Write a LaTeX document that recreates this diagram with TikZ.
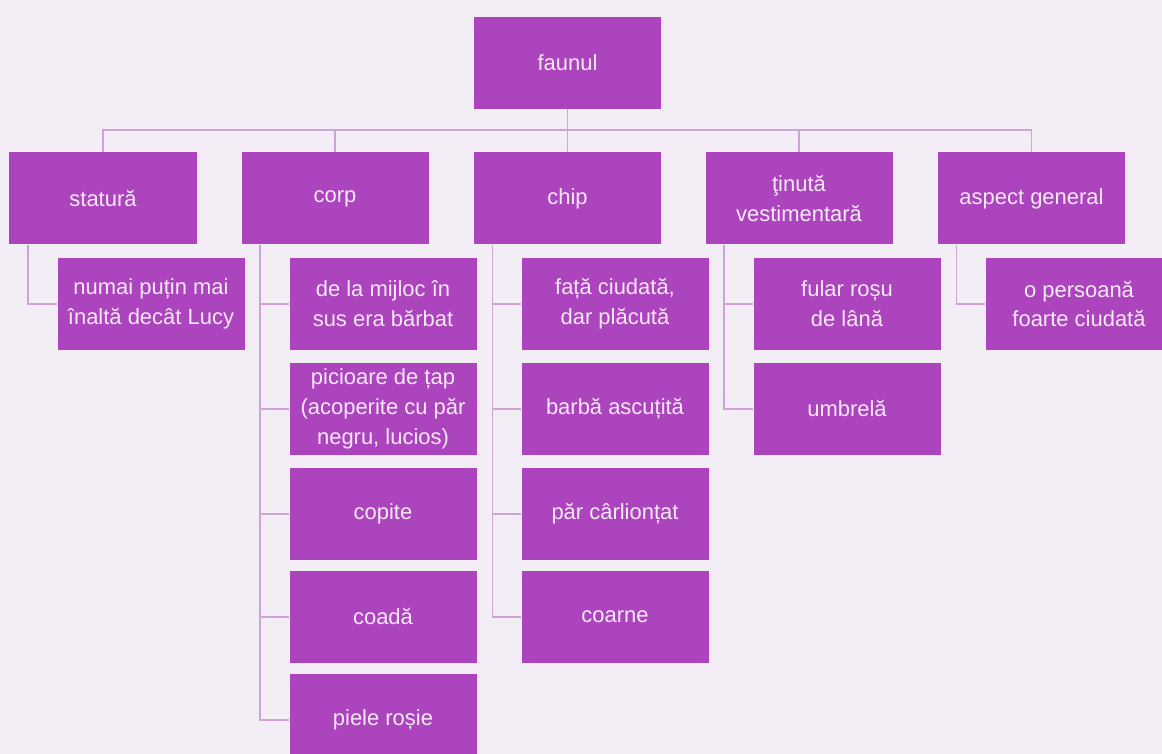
\documentclass[tikz,border=0pt]{standalone}
\usepackage{fontspec}
\setmainfont{Liberation Sans}
\usepackage{tikz}
\definecolor{bgpale}{RGB}{243,238,245}
\definecolor{fpurp}{RGB}{172,68,190}
\definecolor{lpurp}{RGB}{206,164,216}
\definecolor{tpale}{RGB}{246,232,246}
\tikzset{
  box/.style={fill=fpurp,text=tpale,align=center,inner sep=0pt,minimum width=3.74cm,minimum height=1.84cm,font=\fontsize{12.5}{17}\selectfont},
  ln/.style={draw=lpurp,line width=0.9pt},
}

\begin{document}
\begin{tikzpicture}
\fill[bgpale] (0,0) rectangle (23.24,-15.08);
\useasboundingbox (0,0) rectangle (23.24,-15.08);
\begin{scope}
\clip (0,0) rectangle (23.24,-15.08);
\node[box] (faunul) at (11.35,-1.26) {faunul};
\coordinate (bus) at (11.35,-2.60);
\node[box] (statura) at (2.06,-3.97) {statură};
\node[box] (corp) at (6.70,-3.97) {corp};
\node[box] (chip) at (11.35,-3.97) {chip};
\node[box] (tinuta) at (15.98,-3.97) {ţinută\\vestimentară};
\node[box] (aspect) at (20.63,-3.97) {aspect general};
\node[box] (st1) at (3.02,-6.08) {numai puțin mai\\înaltă decât Lucy};
\node[box] (co1) at (7.66,-6.08) {de la mijloc în\\sus era bărbat};
\node[box] (co2) at (7.66,-8.18) {picioare de țap\\(acoperite cu păr\\negru, lucios)};
\node[box] (co3) at (7.66,-10.28) {copite};
\node[box] (co4) at (7.66,-12.34) {coadă};
\node[box] (co5) at (7.66,-14.40) {piele roșie};
\node[box] (ch1) at (12.30,-6.08) {față ciudată,\\dar plăcută};
\node[box] (ch2) at (12.30,-8.18) {barbă ascuțită};
\node[box] (ch3) at (12.30,-10.28) {păr cârlionțat};
\node[box] (ch4) at (12.30,-12.34) {coarne};
\node[box] (ti1) at (16.94,-6.08) {fular roșu\\de lână};
\node[box] (ti2) at (16.94,-8.18) {umbrelă};
\node[box] (as1) at (21.58,-6.08) {o persoană\\foarte ciudată};
\end{scope}
\draw[ln] (faunul) -- (bus);
\draw[ln] (bus) -| (statura.north);
\draw[ln] (bus) -| (corp.north);
\draw[ln] (bus) -- (chip.north);
\draw[ln] (bus) -| (tinuta.north);
\draw[ln] (bus) -| (aspect.north);
\draw[ln] ([xshift=0.38cm]statura.south west) |- (st1.west);
\draw[ln] ([xshift=0.38cm]corp.south west) |- (co1.west);
\draw[ln] ([xshift=0.38cm]corp.south west) |- (co2.west);
\draw[ln] ([xshift=0.38cm]corp.south west) |- (co3.west);
\draw[ln] ([xshift=0.38cm]corp.south west) |- (co4.west);
\draw[ln] ([xshift=0.38cm]corp.south west) |- (co5.west);
\draw[ln] ([xshift=0.38cm]chip.south west) |- (ch1.west);
\draw[ln] ([xshift=0.38cm]chip.south west) |- (ch2.west);
\draw[ln] ([xshift=0.38cm]chip.south west) |- (ch3.west);
\draw[ln] ([xshift=0.38cm]chip.south west) |- (ch4.west);
\draw[ln] ([xshift=0.38cm]tinuta.south west) |- (ti1.west);
\draw[ln] ([xshift=0.38cm]tinuta.south west) |- (ti2.west);
\draw[ln] ([xshift=0.38cm]aspect.south west) |- (as1.west);
\end{tikzpicture}
\end{document}
